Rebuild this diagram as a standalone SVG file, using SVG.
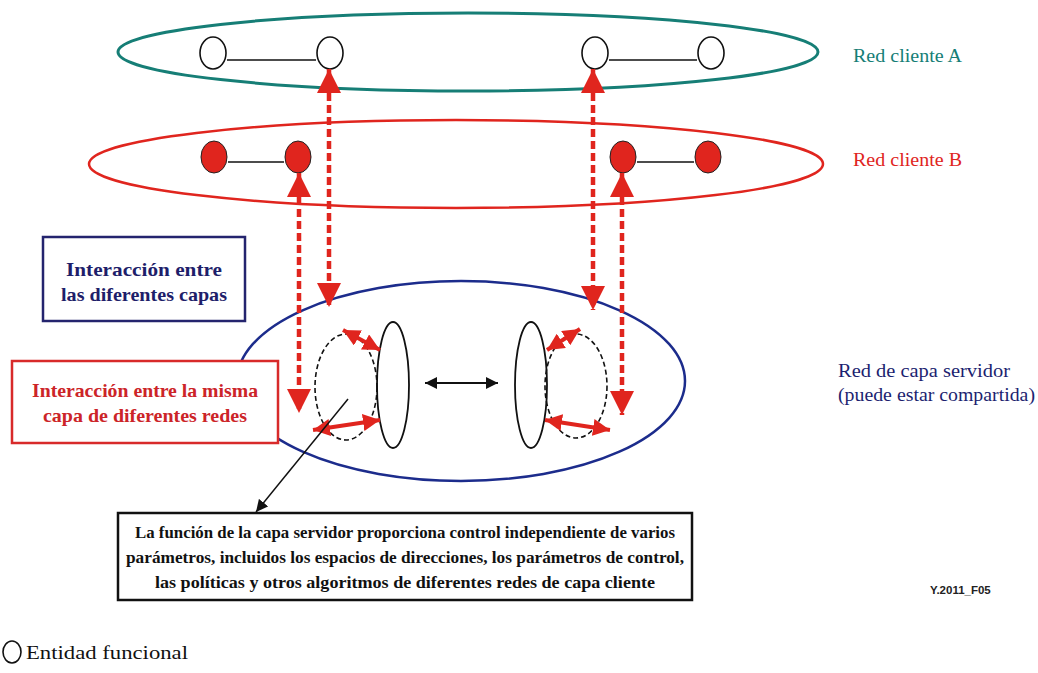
<svg xmlns="http://www.w3.org/2000/svg" width="1038" height="673" viewBox="0 0 1038 673">
<defs>
<style>
.ent{fill:#fff;stroke:#111;stroke-width:1.6}
.dot{fill:#e0251e;stroke:#222;stroke-width:1}
.link{stroke:#111;stroke-width:1.6}
.dash{stroke:#e0251e;stroke-width:4.5;stroke-dasharray:8 4;fill:none}
.red2{stroke:#e0251e;stroke-width:4;fill:none}
</style>
<marker id="hd" markerUnits="userSpaceOnUse" markerWidth="24" markerHeight="24" refX="24" refY="12" orient="auto-start-reverse" viewBox="0 0 24 24">
<path d="M0,0 L24,12 L0,24 z" fill="#e0251e"/>
</marker>
<marker id="hs" markerUnits="userSpaceOnUse" markerWidth="17" markerHeight="17" refX="17" refY="8.5" orient="auto-start-reverse" viewBox="0 0 17 17">
<path d="M0,0 L17,8.5 L0,17 z" fill="#e0251e"/>
</marker>
<marker id="hb" markerUnits="userSpaceOnUse" markerWidth="12" markerHeight="12" refX="12" refY="6" orient="auto-start-reverse" viewBox="0 0 12 12">
<path d="M0,0 L12,6 L0,12 z" fill="#111"/>
</marker>
</defs>

<g id="red-cliente-a">
<ellipse cx="468" cy="52" rx="350" ry="39" fill="none" stroke="#167e76" stroke-width="3"/>
<text x="853" y="62" font-family="Liberation Serif, serif" font-size="18" fill="#167e76" textLength="109" lengthAdjust="spacingAndGlyphs">Red cliente A</text>
</g>
<g id="red-cliente-b">
<ellipse cx="456" cy="164" rx="367" ry="44" fill="none" stroke="#e0251e" stroke-width="2.5"/>
<text x="853" y="166" font-family="Liberation Serif, serif" font-size="18" fill="#e0251e" textLength="109" lengthAdjust="spacingAndGlyphs">Red cliente B</text>
</g>
<g id="red-servidor">
<ellipse cx="461" cy="381" rx="224" ry="100" fill="none" stroke="#1c2c8c" stroke-width="2.5"/>
<text x="838" y="377" font-family="Liberation Serif, serif" font-size="18" fill="#1c1f70" textLength="172" lengthAdjust="spacingAndGlyphs">Red de capa servidor</text>
<text x="838" y="401" font-family="Liberation Serif, serif" font-size="18" fill="#1c1f70" textLength="197" lengthAdjust="spacingAndGlyphs">(puede estar compartida)</text>
</g>

<g id="a-n1"><ellipse class="ent" cx="213" cy="53" rx="13" ry="16"/></g>
<g id="a-n2"><ellipse class="ent" cx="330" cy="53" rx="13" ry="16"/></g>
<g id="a-n3"><ellipse class="ent" cx="595" cy="53" rx="13" ry="16"/></g>
<g id="a-n4"><ellipse class="ent" cx="711" cy="53" rx="13" ry="16"/></g>

<g id="b-n1"><ellipse class="dot" cx="214" cy="157" rx="13" ry="16"/></g>
<g id="b-n2"><ellipse class="dot" cx="298" cy="157" rx="13" ry="16"/></g>
<g id="b-n3"><ellipse class="dot" cx="623" cy="157" rx="13" ry="16"/></g>
<g id="b-n4"><ellipse class="dot" cx="708" cy="157" rx="13" ry="16"/></g>

<g id="s-left">
<ellipse cx="346" cy="387" rx="31" ry="53" fill="none" stroke="#111" stroke-width="1.6" stroke-dasharray="5 3"/>
<ellipse cx="393" cy="385" rx="16" ry="63" fill="none" stroke="#111" stroke-width="1.8"/>
</g>
<g id="s-right">
<ellipse cx="576" cy="386" rx="31" ry="52" fill="none" stroke="#111" stroke-width="1.6" stroke-dasharray="5 3"/>
<ellipse cx="531" cy="385" rx="16" ry="63" fill="none" stroke="#111" stroke-width="1.8"/>
</g>

<g id="box-capas">
<rect x="43" y="237" width="202" height="84" fill="#fff" stroke="#24246e" stroke-width="2.5"/>
<text x="144" y="276" text-anchor="middle" font-family="Liberation Serif, serif" font-weight="bold" font-size="19" fill="#1e1e6a" textLength="156" lengthAdjust="spacingAndGlyphs">Interacción entre</text>
<text x="144" y="301" text-anchor="middle" font-family="Liberation Serif, serif" font-weight="bold" font-size="19" fill="#1e1e6a" textLength="166" lengthAdjust="spacingAndGlyphs">las diferentes capas</text>
</g>
<g id="box-misma">
<rect x="12" y="361" width="266" height="82" fill="#fff" stroke="#d82a2a" stroke-width="2.5"/>
<text x="145" y="397" text-anchor="middle" font-family="Liberation Serif, serif" font-weight="bold" font-size="19" fill="#cc2428" textLength="226" lengthAdjust="spacingAndGlyphs">Interacción entre la misma</text>
<text x="145" y="422" text-anchor="middle" font-family="Liberation Serif, serif" font-weight="bold" font-size="19" fill="#cc2428" textLength="204" lengthAdjust="spacingAndGlyphs">capa de diferentes redes</text>
</g>
<g id="box-funcion">
<rect x="118" y="513" width="574" height="87" fill="#fff" stroke="#111" stroke-width="2.5"/>
<text x="405" y="538" text-anchor="middle" font-family="Liberation Serif, serif" font-weight="bold" font-size="17" fill="#111" textLength="540" lengthAdjust="spacingAndGlyphs">La función de la capa servidor proporciona control independiente de varios</text>
<text x="405" y="563" text-anchor="middle" font-family="Liberation Serif, serif" font-weight="bold" font-size="17" fill="#111" textLength="558" lengthAdjust="spacingAndGlyphs">parámetros, incluidos los espacios de direcciones, los parámetros de control,</text>
<text x="405" y="588" text-anchor="middle" font-family="Liberation Serif, serif" font-weight="bold" font-size="17" fill="#111" textLength="500" lengthAdjust="spacingAndGlyphs">las políticas y otros algoritmos de diferentes redes de capa cliente</text>
</g>

<g id="connectors">
<line class="link" x1="227" y1="60" x2="316" y2="60"/>
<line class="link" x1="609" y1="60" x2="697" y2="60"/>
<line class="link" x1="228" y1="162" x2="284" y2="162"/>
<line class="link" x1="637" y1="162" x2="694" y2="162"/>
<line class="dash" x1="329" y1="69" x2="329" y2="307" marker-start="url(#hd)" marker-end="url(#hd)"/>
<line class="dash" x1="299" y1="173" x2="299" y2="413" marker-start="url(#hd)" marker-end="url(#hd)"/>
<line class="dash" x1="593" y1="69" x2="593" y2="310" marker-start="url(#hd)" marker-end="url(#hd)"/>
<line class="dash" x1="622" y1="173" x2="622" y2="415" marker-start="url(#hd)" marker-end="url(#hd)"/>
<line class="red2" x1="343" y1="330" x2="380" y2="350" marker-start="url(#hs)" marker-end="url(#hs)"/>
<line class="red2" x1="313" y1="430" x2="380" y2="420" marker-start="url(#hs)" marker-end="url(#hs)"/>
<line class="red2" x1="547" y1="350" x2="580" y2="329" marker-start="url(#hs)" marker-end="url(#hs)"/>
<line class="red2" x1="545" y1="420" x2="610" y2="430" marker-start="url(#hs)" marker-end="url(#hs)"/>
<line x1="425" y1="383" x2="498" y2="383" stroke="#111" stroke-width="2" marker-start="url(#hb)" marker-end="url(#hb)"/>
<line x1="348" y1="399" x2="256" y2="512" stroke="#111" stroke-width="1.5" marker-end="url(#hb)"/>
</g>

<g id="legend">
<ellipse class="ent" cx="12" cy="652" rx="9" ry="11"/>
<text x="26" y="659" font-family="Liberation Serif, serif" font-size="19" fill="#111" textLength="162" lengthAdjust="spacingAndGlyphs">Entidad funcional</text>
</g>
<text x="930" y="594" font-family="Liberation Sans, Arial, sans-serif" font-weight="bold" font-size="11.5" fill="#222">Y.2011_F05</text>
</svg>
